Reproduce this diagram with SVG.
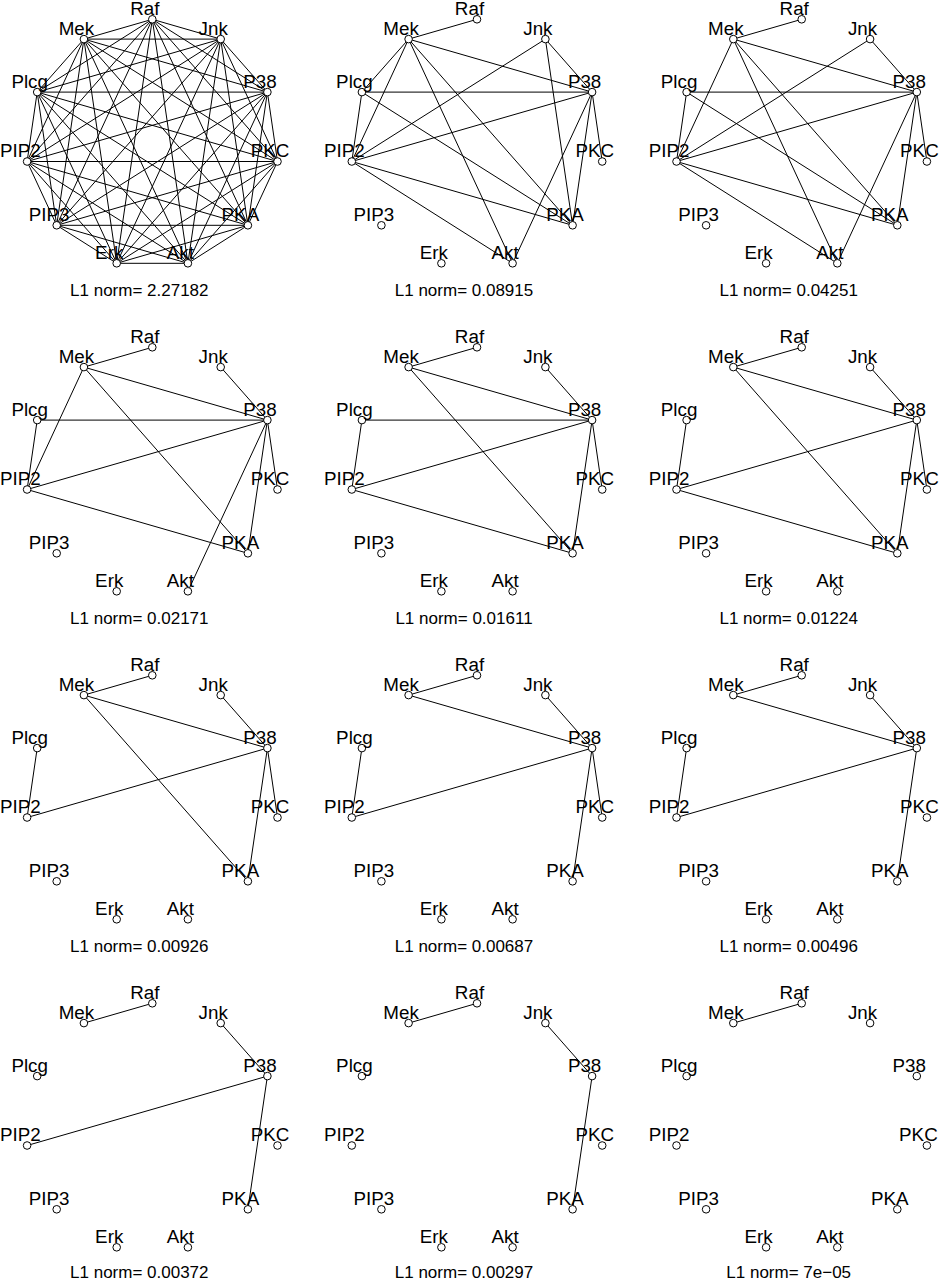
<svg xmlns="http://www.w3.org/2000/svg" width="939" height="1280" viewBox="0 0 939 1280">
<style>
.bg{fill:#fff}
line{stroke:#000;stroke-width:1}
circle{fill:#fff;stroke:#000;stroke-width:1}
text{font-family:"Liberation Sans",Arial,sans-serif;fill:#000}
.lb{font-size:18.8px;text-anchor:middle}
.nm{font-size:17px;text-anchor:middle}
</style>
<rect class="bg" x="0" y="0" width="939" height="1280"/>

<!-- Panel 1 -->
<g id="panel1" transform="translate(0,0)">
<g id="p1-edges">
<line x1="152.3" y1="19.3" x2="83.9" y2="39.1"/><line x1="152.3" y1="19.3" x2="37.2" y2="92.1"/><line x1="152.3" y1="19.3" x2="27.1" y2="161.5"/><line x1="152.3" y1="19.3" x2="56.7" y2="225.3"/><line x1="152.3" y1="19.3" x2="116.7" y2="263.3"/><line x1="152.3" y1="19.3" x2="187.9" y2="263.3"/><line x1="152.3" y1="19.3" x2="247.9" y2="225.3"/><line x1="152.3" y1="19.3" x2="277.5" y2="161.5"/><line x1="152.3" y1="19.3" x2="267.4" y2="92.1"/><line x1="152.3" y1="19.3" x2="220.7" y2="39.1"/>
<line x1="83.9" y1="39.1" x2="37.2" y2="92.1"/><line x1="83.9" y1="39.1" x2="27.1" y2="161.5"/><line x1="83.9" y1="39.1" x2="56.7" y2="225.3"/><line x1="83.9" y1="39.1" x2="116.7" y2="263.3"/><line x1="83.9" y1="39.1" x2="187.9" y2="263.3"/><line x1="83.9" y1="39.1" x2="247.9" y2="225.3"/><line x1="83.9" y1="39.1" x2="277.5" y2="161.5"/><line x1="83.9" y1="39.1" x2="267.4" y2="92.1"/><line x1="83.9" y1="39.1" x2="220.7" y2="39.1"/>
<line x1="37.2" y1="92.1" x2="27.1" y2="161.5"/><line x1="37.2" y1="92.1" x2="56.7" y2="225.3"/><line x1="37.2" y1="92.1" x2="116.7" y2="263.3"/><line x1="37.2" y1="92.1" x2="187.9" y2="263.3"/><line x1="37.2" y1="92.1" x2="247.9" y2="225.3"/><line x1="37.2" y1="92.1" x2="277.5" y2="161.5"/><line x1="37.2" y1="92.1" x2="267.4" y2="92.1"/><line x1="37.2" y1="92.1" x2="220.7" y2="39.1"/>
<line x1="27.1" y1="161.5" x2="56.7" y2="225.3"/><line x1="27.1" y1="161.5" x2="116.7" y2="263.3"/><line x1="27.1" y1="161.5" x2="187.9" y2="263.3"/><line x1="27.1" y1="161.5" x2="247.9" y2="225.3"/><line x1="27.1" y1="161.5" x2="277.5" y2="161.5"/><line x1="27.1" y1="161.5" x2="267.4" y2="92.1"/><line x1="27.1" y1="161.5" x2="220.7" y2="39.1"/>
<line x1="56.7" y1="225.3" x2="116.7" y2="263.3"/><line x1="56.7" y1="225.3" x2="187.9" y2="263.3"/><line x1="56.7" y1="225.3" x2="247.9" y2="225.3"/><line x1="56.7" y1="225.3" x2="277.5" y2="161.5"/><line x1="56.7" y1="225.3" x2="267.4" y2="92.1"/><line x1="56.7" y1="225.3" x2="220.7" y2="39.1"/>
<line x1="116.7" y1="263.3" x2="187.9" y2="263.3"/><line x1="116.7" y1="263.3" x2="247.9" y2="225.3"/><line x1="116.7" y1="263.3" x2="277.5" y2="161.5"/><line x1="116.7" y1="263.3" x2="267.4" y2="92.1"/><line x1="116.7" y1="263.3" x2="220.7" y2="39.1"/>
<line x1="187.9" y1="263.3" x2="247.9" y2="225.3"/><line x1="187.9" y1="263.3" x2="277.5" y2="161.5"/><line x1="187.9" y1="263.3" x2="267.4" y2="92.1"/><line x1="187.9" y1="263.3" x2="220.7" y2="39.1"/>
<line x1="247.9" y1="225.3" x2="277.5" y2="161.5"/><line x1="247.9" y1="225.3" x2="267.4" y2="92.1"/><line x1="247.9" y1="225.3" x2="220.7" y2="39.1"/>
<line x1="277.5" y1="161.5" x2="267.4" y2="92.1"/><line x1="277.5" y1="161.5" x2="220.7" y2="39.1"/>
<line x1="267.4" y1="92.1" x2="220.7" y2="39.1"/>
</g>
<g id="p1-raf"><circle cx="152.3" cy="19.3" r="3.8"/><text class="lb" x="144.8" y="14.8">Raf</text></g>
<g id="p1-mek"><circle cx="83.9" cy="39.1" r="3.8"/><text class="lb" x="76.4" y="34.6">Mek</text></g>
<g id="p1-plcg"><circle cx="37.2" cy="92.1" r="3.8"/><text class="lb" x="29.7" y="87.6">Plcg</text></g>
<g id="p1-pip2"><circle cx="27.1" cy="161.5" r="3.8"/><text class="lb" x="20.4" y="157">PIP2</text></g>
<g id="p1-pip3"><circle cx="56.7" cy="225.3" r="3.8"/><text class="lb" x="49.2" y="220.8">PIP3</text></g>
<g id="p1-erk"><circle cx="116.7" cy="263.3" r="3.8"/><text class="lb" x="109.2" y="258.8">Erk</text></g>
<g id="p1-akt"><circle cx="187.9" cy="263.3" r="3.8"/><text class="lb" x="180.4" y="258.8">Akt</text></g>
<g id="p1-pka"><circle cx="247.9" cy="225.3" r="3.8"/><text class="lb" x="240.4" y="220.8">PKA</text></g>
<g id="p1-pkc"><circle cx="277.5" cy="161.5" r="3.8"/><text class="lb" x="270" y="157">PKC</text></g>
<g id="p1-p38"><circle cx="267.4" cy="92.1" r="3.8"/><text class="lb" x="259.9" y="87.6">P38</text></g>
<g id="p1-jnk"><circle cx="220.7" cy="39.1" r="3.8"/><text class="lb" x="213.2" y="34.6">Jnk</text></g>
<text class="nm" x="139.3" y="296.3">L1 norm= 2.27182</text>
</g>

<!-- Panel 2 -->
<g id="panel2" transform="translate(324.7,0)">
<g id="p2-edges">
<line x1="152.3" y1="19.3" x2="83.9" y2="39.1"/>
<line x1="83.9" y1="39.1" x2="267.4" y2="92.1"/>
<line x1="83.9" y1="39.1" x2="37.2" y2="92.1"/>
<line x1="83.9" y1="39.1" x2="27.1" y2="161.5"/>
<line x1="83.9" y1="39.1" x2="247.9" y2="225.3"/>
<line x1="83.9" y1="39.1" x2="187.9" y2="263.3"/>
<line x1="37.2" y1="92.1" x2="267.4" y2="92.1"/>
<line x1="37.2" y1="92.1" x2="27.1" y2="161.5"/>
<line x1="37.2" y1="92.1" x2="247.9" y2="225.3"/>
<line x1="220.7" y1="39.1" x2="267.4" y2="92.1"/>
<line x1="220.7" y1="39.1" x2="247.9" y2="225.3"/>
<line x1="220.7" y1="39.1" x2="27.1" y2="161.5"/>
<line x1="267.4" y1="92.1" x2="27.1" y2="161.5"/>
<line x1="267.4" y1="92.1" x2="277.5" y2="161.5"/>
<line x1="267.4" y1="92.1" x2="247.9" y2="225.3"/>
<line x1="267.4" y1="92.1" x2="187.9" y2="263.3"/>
<line x1="27.1" y1="161.5" x2="247.9" y2="225.3"/>
<line x1="27.1" y1="161.5" x2="187.9" y2="263.3"/>
</g>
<g id="p2-raf"><circle cx="152.3" cy="19.3" r="3.8"/><text class="lb" x="144.8" y="14.8">Raf</text></g>
<g id="p2-mek"><circle cx="83.9" cy="39.1" r="3.8"/><text class="lb" x="76.4" y="34.6">Mek</text></g>
<g id="p2-plcg"><circle cx="37.2" cy="92.1" r="3.8"/><text class="lb" x="29.7" y="87.6">Plcg</text></g>
<g id="p2-pip2"><circle cx="27.1" cy="161.5" r="3.8"/><text class="lb" x="19.6" y="157">PIP2</text></g>
<g id="p2-pip3"><circle cx="56.7" cy="225.3" r="3.8"/><text class="lb" x="49.2" y="220.8">PIP3</text></g>
<g id="p2-erk"><circle cx="116.7" cy="263.3" r="3.8"/><text class="lb" x="109.2" y="258.8">Erk</text></g>
<g id="p2-akt"><circle cx="187.9" cy="263.3" r="3.8"/><text class="lb" x="180.4" y="258.8">Akt</text></g>
<g id="p2-pka"><circle cx="247.9" cy="225.3" r="3.8"/><text class="lb" x="240.4" y="220.8">PKA</text></g>
<g id="p2-pkc"><circle cx="277.5" cy="161.5" r="3.8"/><text class="lb" x="270" y="157">PKC</text></g>
<g id="p2-p38"><circle cx="267.4" cy="92.1" r="3.8"/><text class="lb" x="259.9" y="87.6">P38</text></g>
<g id="p2-jnk"><circle cx="220.7" cy="39.1" r="3.8"/><text class="lb" x="213.2" y="34.6">Jnk</text></g>
<text class="nm" x="139.3" y="296.3">L1 norm= 0.08915</text>
</g>

<!-- Panel 3 -->
<g id="panel3" transform="translate(649.4,0)">
<g id="p3-edges">
<line x1="152.3" y1="19.3" x2="83.9" y2="39.1"/>
<line x1="83.9" y1="39.1" x2="267.4" y2="92.1"/>
<line x1="83.9" y1="39.1" x2="27.1" y2="161.5"/>
<line x1="83.9" y1="39.1" x2="247.9" y2="225.3"/>
<line x1="83.9" y1="39.1" x2="187.9" y2="263.3"/>
<line x1="37.2" y1="92.1" x2="267.4" y2="92.1"/>
<line x1="37.2" y1="92.1" x2="27.1" y2="161.5"/>
<line x1="37.2" y1="92.1" x2="247.9" y2="225.3"/>
<line x1="220.7" y1="39.1" x2="267.4" y2="92.1"/>
<line x1="220.7" y1="39.1" x2="27.1" y2="161.5"/>
<line x1="267.4" y1="92.1" x2="27.1" y2="161.5"/>
<line x1="267.4" y1="92.1" x2="277.5" y2="161.5"/>
<line x1="267.4" y1="92.1" x2="247.9" y2="225.3"/>
<line x1="267.4" y1="92.1" x2="187.9" y2="263.3"/>
<line x1="27.1" y1="161.5" x2="247.9" y2="225.3"/>
<line x1="27.1" y1="161.5" x2="187.9" y2="263.3"/>
</g>
<g id="p3-raf"><circle cx="152.3" cy="19.3" r="3.8"/><text class="lb" x="144.8" y="14.8">Raf</text></g>
<g id="p3-mek"><circle cx="83.9" cy="39.1" r="3.8"/><text class="lb" x="76.4" y="34.6">Mek</text></g>
<g id="p3-plcg"><circle cx="37.2" cy="92.1" r="3.8"/><text class="lb" x="29.7" y="87.6">Plcg</text></g>
<g id="p3-pip2"><circle cx="27.1" cy="161.5" r="3.8"/><text class="lb" x="19.6" y="157">PIP2</text></g>
<g id="p3-pip3"><circle cx="56.7" cy="225.3" r="3.8"/><text class="lb" x="49.2" y="220.8">PIP3</text></g>
<g id="p3-erk"><circle cx="116.7" cy="263.3" r="3.8"/><text class="lb" x="109.2" y="258.8">Erk</text></g>
<g id="p3-akt"><circle cx="187.9" cy="263.3" r="3.8"/><text class="lb" x="180.4" y="258.8">Akt</text></g>
<g id="p3-pka"><circle cx="247.9" cy="225.3" r="3.8"/><text class="lb" x="240.4" y="220.8">PKA</text></g>
<g id="p3-pkc"><circle cx="277.5" cy="161.5" r="3.8"/><text class="lb" x="270" y="157">PKC</text></g>
<g id="p3-p38"><circle cx="267.4" cy="92.1" r="3.8"/><text class="lb" x="259.9" y="87.6">P38</text></g>
<g id="p3-jnk"><circle cx="220.7" cy="39.1" r="3.8"/><text class="lb" x="213.2" y="34.6">Jnk</text></g>
<text class="nm" x="139.3" y="296.3">L1 norm= 0.04251</text>
</g>

<!-- Panel 4 -->
<g id="panel4" transform="translate(0,328)">
<g id="p4-edges">
<line x1="152.3" y1="19.3" x2="83.9" y2="39.1"/>
<line x1="83.9" y1="39.1" x2="267.4" y2="92.1"/>
<line x1="83.9" y1="39.1" x2="27.1" y2="161.5"/>
<line x1="83.9" y1="39.1" x2="247.9" y2="225.3"/>
<line x1="37.2" y1="92.1" x2="267.4" y2="92.1"/>
<line x1="37.2" y1="92.1" x2="27.1" y2="161.5"/>
<line x1="220.7" y1="39.1" x2="267.4" y2="92.1"/>
<line x1="267.4" y1="92.1" x2="27.1" y2="161.5"/>
<line x1="267.4" y1="92.1" x2="277.5" y2="161.5"/>
<line x1="267.4" y1="92.1" x2="247.9" y2="225.3"/>
<line x1="267.4" y1="92.1" x2="187.9" y2="263.3"/>
<line x1="27.1" y1="161.5" x2="247.9" y2="225.3"/>
</g>
<g id="p4-raf"><circle cx="152.3" cy="19.3" r="3.8"/><text class="lb" x="144.8" y="14.8">Raf</text></g>
<g id="p4-mek"><circle cx="83.9" cy="39.1" r="3.8"/><text class="lb" x="76.4" y="34.6">Mek</text></g>
<g id="p4-plcg"><circle cx="37.2" cy="92.1" r="3.8"/><text class="lb" x="29.7" y="87.6">Plcg</text></g>
<g id="p4-pip2"><circle cx="27.1" cy="161.5" r="3.8"/><text class="lb" x="20.4" y="157">PIP2</text></g>
<g id="p4-pip3"><circle cx="56.7" cy="225.3" r="3.8"/><text class="lb" x="49.2" y="220.8">PIP3</text></g>
<g id="p4-erk"><circle cx="116.7" cy="263.3" r="3.8"/><text class="lb" x="109.2" y="258.8">Erk</text></g>
<g id="p4-akt"><circle cx="187.9" cy="263.3" r="3.8"/><text class="lb" x="180.4" y="258.8">Akt</text></g>
<g id="p4-pka"><circle cx="247.9" cy="225.3" r="3.8"/><text class="lb" x="240.4" y="220.8">PKA</text></g>
<g id="p4-pkc"><circle cx="277.5" cy="161.5" r="3.8"/><text class="lb" x="270" y="157">PKC</text></g>
<g id="p4-p38"><circle cx="267.4" cy="92.1" r="3.8"/><text class="lb" x="259.9" y="87.6">P38</text></g>
<g id="p4-jnk"><circle cx="220.7" cy="39.1" r="3.8"/><text class="lb" x="213.2" y="34.6">Jnk</text></g>
<text class="nm" x="139.3" y="296.3">L1 norm= 0.02171</text>
</g>

<!-- Panel 5 -->
<g id="panel5" transform="translate(324.7,328)">
<g id="p5-edges">
<line x1="152.3" y1="19.3" x2="83.9" y2="39.1"/>
<line x1="83.9" y1="39.1" x2="267.4" y2="92.1"/>
<line x1="83.9" y1="39.1" x2="247.9" y2="225.3"/>
<line x1="37.2" y1="92.1" x2="267.4" y2="92.1"/>
<line x1="37.2" y1="92.1" x2="27.1" y2="161.5"/>
<line x1="220.7" y1="39.1" x2="267.4" y2="92.1"/>
<line x1="267.4" y1="92.1" x2="27.1" y2="161.5"/>
<line x1="267.4" y1="92.1" x2="277.5" y2="161.5"/>
<line x1="267.4" y1="92.1" x2="247.9" y2="225.3"/>
<line x1="27.1" y1="161.5" x2="247.9" y2="225.3"/>
</g>
<g id="p5-raf"><circle cx="152.3" cy="19.3" r="3.8"/><text class="lb" x="144.8" y="14.8">Raf</text></g>
<g id="p5-mek"><circle cx="83.9" cy="39.1" r="3.8"/><text class="lb" x="76.4" y="34.6">Mek</text></g>
<g id="p5-plcg"><circle cx="37.2" cy="92.1" r="3.8"/><text class="lb" x="29.7" y="87.6">Plcg</text></g>
<g id="p5-pip2"><circle cx="27.1" cy="161.5" r="3.8"/><text class="lb" x="19.6" y="157">PIP2</text></g>
<g id="p5-pip3"><circle cx="56.7" cy="225.3" r="3.8"/><text class="lb" x="49.2" y="220.8">PIP3</text></g>
<g id="p5-erk"><circle cx="116.7" cy="263.3" r="3.8"/><text class="lb" x="109.2" y="258.8">Erk</text></g>
<g id="p5-akt"><circle cx="187.9" cy="263.3" r="3.8"/><text class="lb" x="180.4" y="258.8">Akt</text></g>
<g id="p5-pka"><circle cx="247.9" cy="225.3" r="3.8"/><text class="lb" x="240.4" y="220.8">PKA</text></g>
<g id="p5-pkc"><circle cx="277.5" cy="161.5" r="3.8"/><text class="lb" x="270" y="157">PKC</text></g>
<g id="p5-p38"><circle cx="267.4" cy="92.1" r="3.8"/><text class="lb" x="259.9" y="87.6">P38</text></g>
<g id="p5-jnk"><circle cx="220.7" cy="39.1" r="3.8"/><text class="lb" x="213.2" y="34.6">Jnk</text></g>
<text class="nm" x="139.3" y="296.3">L1 norm= 0.01611</text>
</g>

<!-- Panel 6 -->
<g id="panel6" transform="translate(649.4,328)">
<g id="p6-edges">
<line x1="152.3" y1="19.3" x2="83.9" y2="39.1"/>
<line x1="83.9" y1="39.1" x2="267.4" y2="92.1"/>
<line x1="83.9" y1="39.1" x2="247.9" y2="225.3"/>
<line x1="37.2" y1="92.1" x2="27.1" y2="161.5"/>
<line x1="220.7" y1="39.1" x2="267.4" y2="92.1"/>
<line x1="267.4" y1="92.1" x2="27.1" y2="161.5"/>
<line x1="267.4" y1="92.1" x2="277.5" y2="161.5"/>
<line x1="267.4" y1="92.1" x2="247.9" y2="225.3"/>
<line x1="27.1" y1="161.5" x2="247.9" y2="225.3"/>
</g>
<g id="p6-raf"><circle cx="152.3" cy="19.3" r="3.8"/><text class="lb" x="144.8" y="14.8">Raf</text></g>
<g id="p6-mek"><circle cx="83.9" cy="39.1" r="3.8"/><text class="lb" x="76.4" y="34.6">Mek</text></g>
<g id="p6-plcg"><circle cx="37.2" cy="92.1" r="3.8"/><text class="lb" x="29.7" y="87.6">Plcg</text></g>
<g id="p6-pip2"><circle cx="27.1" cy="161.5" r="3.8"/><text class="lb" x="19.6" y="157">PIP2</text></g>
<g id="p6-pip3"><circle cx="56.7" cy="225.3" r="3.8"/><text class="lb" x="49.2" y="220.8">PIP3</text></g>
<g id="p6-erk"><circle cx="116.7" cy="263.3" r="3.8"/><text class="lb" x="109.2" y="258.8">Erk</text></g>
<g id="p6-akt"><circle cx="187.9" cy="263.3" r="3.8"/><text class="lb" x="180.4" y="258.8">Akt</text></g>
<g id="p6-pka"><circle cx="247.9" cy="225.3" r="3.8"/><text class="lb" x="240.4" y="220.8">PKA</text></g>
<g id="p6-pkc"><circle cx="277.5" cy="161.5" r="3.8"/><text class="lb" x="270" y="157">PKC</text></g>
<g id="p6-p38"><circle cx="267.4" cy="92.1" r="3.8"/><text class="lb" x="259.9" y="87.6">P38</text></g>
<g id="p6-jnk"><circle cx="220.7" cy="39.1" r="3.8"/><text class="lb" x="213.2" y="34.6">Jnk</text></g>
<text class="nm" x="139.3" y="296.3">L1 norm= 0.01224</text>
</g>

<!-- Panel 7 -->
<g id="panel7" transform="translate(0,656)">
<g id="p7-edges">
<line x1="152.3" y1="19.3" x2="83.9" y2="39.1"/>
<line x1="83.9" y1="39.1" x2="267.4" y2="92.1"/>
<line x1="83.9" y1="39.1" x2="247.9" y2="225.3"/>
<line x1="37.2" y1="92.1" x2="27.1" y2="161.5"/>
<line x1="220.7" y1="39.1" x2="267.4" y2="92.1"/>
<line x1="267.4" y1="92.1" x2="27.1" y2="161.5"/>
<line x1="267.4" y1="92.1" x2="277.5" y2="161.5"/>
<line x1="267.4" y1="92.1" x2="247.9" y2="225.3"/>
</g>
<g id="p7-raf"><circle cx="152.3" cy="19.3" r="3.8"/><text class="lb" x="144.8" y="14.8">Raf</text></g>
<g id="p7-mek"><circle cx="83.9" cy="39.1" r="3.8"/><text class="lb" x="76.4" y="34.6">Mek</text></g>
<g id="p7-plcg"><circle cx="37.2" cy="92.1" r="3.8"/><text class="lb" x="29.7" y="87.6">Plcg</text></g>
<g id="p7-pip2"><circle cx="27.1" cy="161.5" r="3.8"/><text class="lb" x="20.4" y="157">PIP2</text></g>
<g id="p7-pip3"><circle cx="56.7" cy="225.3" r="3.8"/><text class="lb" x="49.2" y="220.8">PIP3</text></g>
<g id="p7-erk"><circle cx="116.7" cy="263.3" r="3.8"/><text class="lb" x="109.2" y="258.8">Erk</text></g>
<g id="p7-akt"><circle cx="187.9" cy="263.3" r="3.8"/><text class="lb" x="180.4" y="258.8">Akt</text></g>
<g id="p7-pka"><circle cx="247.9" cy="225.3" r="3.8"/><text class="lb" x="240.4" y="220.8">PKA</text></g>
<g id="p7-pkc"><circle cx="277.5" cy="161.5" r="3.8"/><text class="lb" x="270" y="157">PKC</text></g>
<g id="p7-p38"><circle cx="267.4" cy="92.1" r="3.8"/><text class="lb" x="259.9" y="87.6">P38</text></g>
<g id="p7-jnk"><circle cx="220.7" cy="39.1" r="3.8"/><text class="lb" x="213.2" y="34.6">Jnk</text></g>
<text class="nm" x="139.3" y="296.3">L1 norm= 0.00926</text>
</g>

<!-- Panel 8 -->
<g id="panel8" transform="translate(324.7,656)">
<g id="p8-edges">
<line x1="152.3" y1="19.3" x2="83.9" y2="39.1"/>
<line x1="83.9" y1="39.1" x2="267.4" y2="92.1"/>
<line x1="37.2" y1="92.1" x2="27.1" y2="161.5"/>
<line x1="220.7" y1="39.1" x2="267.4" y2="92.1"/>
<line x1="267.4" y1="92.1" x2="27.1" y2="161.5"/>
<line x1="267.4" y1="92.1" x2="277.5" y2="161.5"/>
<line x1="267.4" y1="92.1" x2="247.9" y2="225.3"/>
</g>
<g id="p8-raf"><circle cx="152.3" cy="19.3" r="3.8"/><text class="lb" x="144.8" y="14.8">Raf</text></g>
<g id="p8-mek"><circle cx="83.9" cy="39.1" r="3.8"/><text class="lb" x="76.4" y="34.6">Mek</text></g>
<g id="p8-plcg"><circle cx="37.2" cy="92.1" r="3.8"/><text class="lb" x="29.7" y="87.6">Plcg</text></g>
<g id="p8-pip2"><circle cx="27.1" cy="161.5" r="3.8"/><text class="lb" x="19.6" y="157">PIP2</text></g>
<g id="p8-pip3"><circle cx="56.7" cy="225.3" r="3.8"/><text class="lb" x="49.2" y="220.8">PIP3</text></g>
<g id="p8-erk"><circle cx="116.7" cy="263.3" r="3.8"/><text class="lb" x="109.2" y="258.8">Erk</text></g>
<g id="p8-akt"><circle cx="187.9" cy="263.3" r="3.8"/><text class="lb" x="180.4" y="258.8">Akt</text></g>
<g id="p8-pka"><circle cx="247.9" cy="225.3" r="3.8"/><text class="lb" x="240.4" y="220.8">PKA</text></g>
<g id="p8-pkc"><circle cx="277.5" cy="161.5" r="3.8"/><text class="lb" x="270" y="157">PKC</text></g>
<g id="p8-p38"><circle cx="267.4" cy="92.1" r="3.8"/><text class="lb" x="259.9" y="87.6">P38</text></g>
<g id="p8-jnk"><circle cx="220.7" cy="39.1" r="3.8"/><text class="lb" x="213.2" y="34.6">Jnk</text></g>
<text class="nm" x="139.3" y="296.3">L1 norm= 0.00687</text>
</g>

<!-- Panel 9 -->
<g id="panel9" transform="translate(649.4,656)">
<g id="p9-edges">
<line x1="152.3" y1="19.3" x2="83.9" y2="39.1"/>
<line x1="83.9" y1="39.1" x2="267.4" y2="92.1"/>
<line x1="37.2" y1="92.1" x2="27.1" y2="161.5"/>
<line x1="220.7" y1="39.1" x2="267.4" y2="92.1"/>
<line x1="267.4" y1="92.1" x2="27.1" y2="161.5"/>
<line x1="267.4" y1="92.1" x2="247.9" y2="225.3"/>
</g>
<g id="p9-raf"><circle cx="152.3" cy="19.3" r="3.8"/><text class="lb" x="144.8" y="14.8">Raf</text></g>
<g id="p9-mek"><circle cx="83.9" cy="39.1" r="3.8"/><text class="lb" x="76.4" y="34.6">Mek</text></g>
<g id="p9-plcg"><circle cx="37.2" cy="92.1" r="3.8"/><text class="lb" x="29.7" y="87.6">Plcg</text></g>
<g id="p9-pip2"><circle cx="27.1" cy="161.5" r="3.8"/><text class="lb" x="19.6" y="157">PIP2</text></g>
<g id="p9-pip3"><circle cx="56.7" cy="225.3" r="3.8"/><text class="lb" x="49.2" y="220.8">PIP3</text></g>
<g id="p9-erk"><circle cx="116.7" cy="263.3" r="3.8"/><text class="lb" x="109.2" y="258.8">Erk</text></g>
<g id="p9-akt"><circle cx="187.9" cy="263.3" r="3.8"/><text class="lb" x="180.4" y="258.8">Akt</text></g>
<g id="p9-pka"><circle cx="247.9" cy="225.3" r="3.8"/><text class="lb" x="240.4" y="220.8">PKA</text></g>
<g id="p9-pkc"><circle cx="277.5" cy="161.5" r="3.8"/><text class="lb" x="270" y="157">PKC</text></g>
<g id="p9-p38"><circle cx="267.4" cy="92.1" r="3.8"/><text class="lb" x="259.9" y="87.6">P38</text></g>
<g id="p9-jnk"><circle cx="220.7" cy="39.1" r="3.8"/><text class="lb" x="213.2" y="34.6">Jnk</text></g>
<text class="nm" x="139.3" y="296.3">L1 norm= 0.00496</text>
</g>

<!-- Panel 10 -->
<g id="panel10" transform="translate(0,984)">
<g id="p10-edges">
<line x1="152.3" y1="19.3" x2="83.9" y2="39.1"/>
<line x1="220.7" y1="39.1" x2="267.4" y2="92.1"/>
<line x1="267.4" y1="92.1" x2="27.1" y2="161.5"/>
<line x1="267.4" y1="92.1" x2="247.9" y2="225.3"/>
</g>
<g id="p10-raf"><circle cx="152.3" cy="19.3" r="3.8"/><text class="lb" x="144.8" y="14.8">Raf</text></g>
<g id="p10-mek"><circle cx="83.9" cy="39.1" r="3.8"/><text class="lb" x="76.4" y="34.6">Mek</text></g>
<g id="p10-plcg"><circle cx="37.2" cy="92.1" r="3.8"/><text class="lb" x="29.7" y="87.6">Plcg</text></g>
<g id="p10-pip2"><circle cx="27.1" cy="161.5" r="3.8"/><text class="lb" x="20.4" y="157">PIP2</text></g>
<g id="p10-pip3"><circle cx="56.7" cy="225.3" r="3.8"/><text class="lb" x="49.2" y="220.8">PIP3</text></g>
<g id="p10-erk"><circle cx="116.7" cy="263.3" r="3.8"/><text class="lb" x="109.2" y="258.8">Erk</text></g>
<g id="p10-akt"><circle cx="187.9" cy="263.3" r="3.8"/><text class="lb" x="180.4" y="258.8">Akt</text></g>
<g id="p10-pka"><circle cx="247.9" cy="225.3" r="3.8"/><text class="lb" x="240.4" y="220.8">PKA</text></g>
<g id="p10-pkc"><circle cx="277.5" cy="161.5" r="3.8"/><text class="lb" x="270" y="157">PKC</text></g>
<g id="p10-p38"><circle cx="267.4" cy="92.1" r="3.8"/><text class="lb" x="259.9" y="87.6">P38</text></g>
<g id="p10-jnk"><circle cx="220.7" cy="39.1" r="3.8"/><text class="lb" x="213.2" y="34.6">Jnk</text></g>
<text class="nm" x="139.3" y="293.6">L1 norm= 0.00372</text>
</g>

<!-- Panel 11 -->
<g id="panel11" transform="translate(324.7,984)">
<g id="p11-edges">
<line x1="152.3" y1="19.3" x2="83.9" y2="39.1"/>
<line x1="220.7" y1="39.1" x2="267.4" y2="92.1"/>
<line x1="267.4" y1="92.1" x2="247.9" y2="225.3"/>
</g>
<g id="p11-raf"><circle cx="152.3" cy="19.3" r="3.8"/><text class="lb" x="144.8" y="14.8">Raf</text></g>
<g id="p11-mek"><circle cx="83.9" cy="39.1" r="3.8"/><text class="lb" x="76.4" y="34.6">Mek</text></g>
<g id="p11-plcg"><circle cx="37.2" cy="92.1" r="3.8"/><text class="lb" x="29.7" y="87.6">Plcg</text></g>
<g id="p11-pip2"><circle cx="27.1" cy="161.5" r="3.8"/><text class="lb" x="19.6" y="157">PIP2</text></g>
<g id="p11-pip3"><circle cx="56.7" cy="225.3" r="3.8"/><text class="lb" x="49.2" y="220.8">PIP3</text></g>
<g id="p11-erk"><circle cx="116.7" cy="263.3" r="3.8"/><text class="lb" x="109.2" y="258.8">Erk</text></g>
<g id="p11-akt"><circle cx="187.9" cy="263.3" r="3.8"/><text class="lb" x="180.4" y="258.8">Akt</text></g>
<g id="p11-pka"><circle cx="247.9" cy="225.3" r="3.8"/><text class="lb" x="240.4" y="220.8">PKA</text></g>
<g id="p11-pkc"><circle cx="277.5" cy="161.5" r="3.8"/><text class="lb" x="270" y="157">PKC</text></g>
<g id="p11-p38"><circle cx="267.4" cy="92.1" r="3.8"/><text class="lb" x="259.9" y="87.6">P38</text></g>
<g id="p11-jnk"><circle cx="220.7" cy="39.1" r="3.8"/><text class="lb" x="213.2" y="34.6">Jnk</text></g>
<text class="nm" x="139.3" y="293.6">L1 norm= 0.00297</text>
</g>

<!-- Panel 12 -->
<g id="panel12" transform="translate(649.4,984)">
<g id="p12-edges">
<line x1="152.3" y1="19.3" x2="83.9" y2="39.1"/>
</g>
<g id="p12-raf"><circle cx="152.3" cy="19.3" r="3.8"/><text class="lb" x="144.8" y="14.8">Raf</text></g>
<g id="p12-mek"><circle cx="83.9" cy="39.1" r="3.8"/><text class="lb" x="76.4" y="34.6">Mek</text></g>
<g id="p12-plcg"><circle cx="37.2" cy="92.1" r="3.8"/><text class="lb" x="29.7" y="87.6">Plcg</text></g>
<g id="p12-pip2"><circle cx="27.1" cy="161.5" r="3.8"/><text class="lb" x="19.6" y="157">PIP2</text></g>
<g id="p12-pip3"><circle cx="56.7" cy="225.3" r="3.8"/><text class="lb" x="49.2" y="220.8">PIP3</text></g>
<g id="p12-erk"><circle cx="116.7" cy="263.3" r="3.8"/><text class="lb" x="109.2" y="258.8">Erk</text></g>
<g id="p12-akt"><circle cx="187.9" cy="263.3" r="3.8"/><text class="lb" x="180.4" y="258.8">Akt</text></g>
<g id="p12-pka"><circle cx="247.9" cy="225.3" r="3.8"/><text class="lb" x="240.4" y="220.8">PKA</text></g>
<g id="p12-pkc"><circle cx="277.5" cy="161.5" r="3.8"/><text class="lb" x="269" y="157">PKC</text></g>
<g id="p12-p38"><circle cx="267.4" cy="92.1" r="3.8"/><text class="lb" x="259.9" y="87.6">P38</text></g>
<g id="p12-jnk"><circle cx="220.7" cy="39.1" r="3.8"/><text class="lb" x="213.2" y="34.6">Jnk</text></g>
<text class="nm" x="139.3" y="293.6">L1 norm= 7e−05</text>
</g>
</svg>
